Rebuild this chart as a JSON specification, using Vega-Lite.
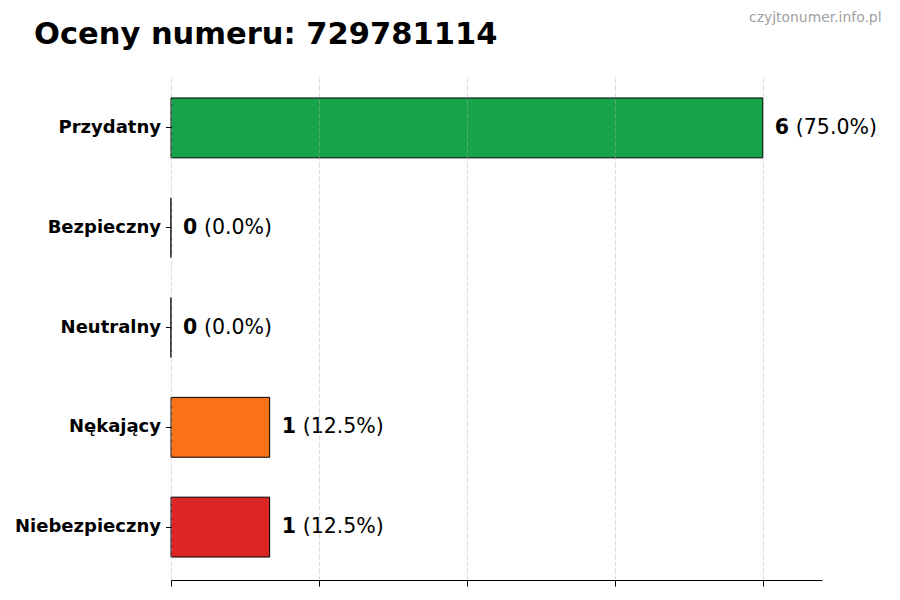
{
  "$schema": "https://vega.github.io/schema/vega-lite/v6.json",
  "width": 651,
  "height": 505,
  "autosize": {"type": "none"},
  "padding": {"left": 171, "top": 75, "right": 78, "bottom": 20},
  "background": "white",
  "title": {
    "text": "Oceny numeru: 729781114",
    "anchor": "start",
    "frame": "group",
    "dx": -137,
    "offset": -64,
    "baseline": "alphabetic",
    "font": "DejaVu Sans",
    "fontSize": 30.5,
    "fontWeight": "bold",
    "color": "black"
  },
  "config": {
    "font": "DejaVu Sans",
    "view": {"stroke": null}
  },
  "data": {
    "values": [
      {"rating": "Przydatny", "count": 6, "label": "(75.0%)"},
      {"rating": "Bezpieczny", "count": 0, "label": "(0.0%)"},
      {"rating": "Neutralny", "count": 0, "label": "(0.0%)"},
      {"rating": "Nękający", "count": 1, "label": "(12.5%)"},
      {"rating": "Niebezpieczny", "count": 1, "label": "(12.5%)"}
    ]
  },
  "encoding": {
    "y": {
      "field": "rating",
      "type": "nominal",
      "sort": null,
      "scale": {"paddingInner": 0.4, "paddingOuter": 0.23},
      "axis": {
        "title": null,
        "domain": false,
        "labelFontSize": 18,
        "labelFontWeight": "bold",
        "labelColor": "black",
        "labelPadding": 5,
        "tickColor": "black",
        "tickSize": 5.5,
        "zindex": 1
      }
    },
    "x": {
      "field": "count",
      "type": "quantitative",
      "scale": {"domain": [0, 6.6], "nice": false},
      "axis": {
        "values": [0, 1.5, 3, 4.5, 6],
        "labels": false,
        "title": "czyjtonumer.info.pl",
        "titleX": 710,
        "titleY": -563,
        "titleAlign": "right",
        "titleBaseline": "middle",
        "titleFontSize": 13.9,
        "titleFontWeight": "normal",
        "titleColor": "#a0a0a0",
        "grid": true,
        "gridColor": "#b0b0b0",
        "gridOpacity": 0.55,
        "gridDash": [5, 2],
        "gridWidth": 0.8,
        "domainColor": "black",
        "domainWidth": 1,
        "tickColor": "black",
        "tickSize": 6,
        "zindex": 1
      }
    }
  },
  "layer": [
    {
      "mark": {"type": "bar", "stroke": "black", "strokeWidth": 1},
      "encoding": {
        "color": {
          "field": "rating",
          "type": "nominal",
          "legend": null,
          "scale": {
            "domain": ["Przydatny", "Bezpieczny", "Neutralny", "Nękający", "Niebezpieczny"],
            "range": ["#16a34a", "#3b82f6", "#9ca3af", "#f97316", "#dc2626"]
          }
        }
      }
    },
    {
      "mark": {"type": "text", "align": "left", "baseline": "middle", "dx": 12, "fontSize": 20.5, "fontWeight": "bold", "color": "black"},
      "encoding": {"text": {"field": "count", "type": "quantitative"}}
    },
    {
      "mark": {"type": "text", "align": "left", "baseline": "middle", "dx": 33, "fontSize": 20.5, "color": "black"},
      "encoding": {"text": {"field": "label", "type": "nominal"}}
    }
  ]
}
